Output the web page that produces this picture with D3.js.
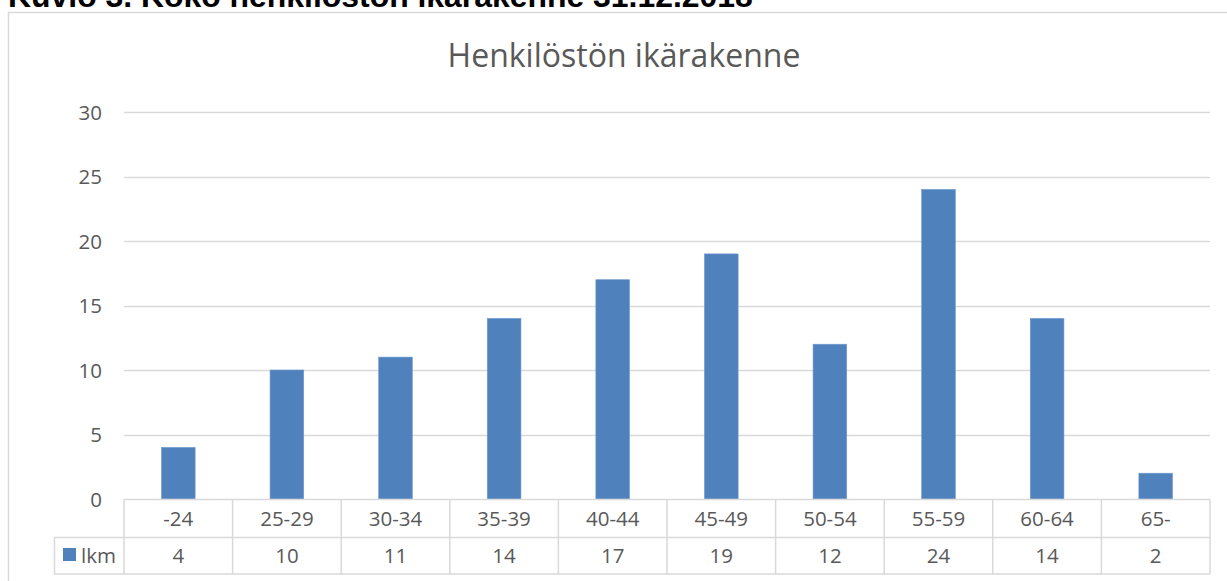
<!DOCTYPE html>
<html><head><meta charset="utf-8">
<script src="https://cdn.jsdelivr.net/npm/d3@7"></script>
<style>body{margin:0;background:#fff;overflow:hidden}</style>
</head><body>
<svg id="c" width="1227" height="581"></svg>
<script>
const categories = ["-24","25-29","30-34","35-39","40-44","45-49","50-54","55-59","60-64","65-"];
const values = [4,10,11,14,17,19,12,24,14,2];
const seriesName = "lkm";
const yTicks = [0,5,10,15,20,25,30];
const heading = "Kuvio 3. Koko henkilöstön ikärakenne 31.12.2018";
const chartTitle = "Henkilöstön ikärakenne";

const svg = d3.select("#c");
const font = "'Liberation Sans', Arial, sans-serif";
const lblFont = "'Open Sans', sans-serif";
const lblSize = 20.5;
const txt = "#595959", grid = "#d9d9d9", barColor = "#4f81bd";

// heading (cut off at top)
const h = svg.append("text").attr("x", 8).attr("y", 7)
  .attr("font-family", font).attr("font-weight", "bold").attr("font-size", 24)
  .attr("fill", "#000").text(heading);
const hl = h.node().getComputedTextLength();
h.attr("font-size", 24 * 745 / hl);

// chart frame
svg.append("rect").attr("x", 8.5).attr("y", 12.5).attr("width", 1240).attr("height", 600)
  .attr("fill", "#fff").attr("stroke", grid).attr("stroke-width", 1.5);

const x = d3.scaleBand().domain(categories).range([124, 1210]).paddingInner(0.69).paddingOuter(0.345);
const xCol = d3.scaleBand().domain(categories).range([124, 1210]);
const y = d3.scaleLinear().domain([0, 30]).range([499, 112]);

// title
const t = svg.append("text").attr("x", 624).attr("y", 67).attr("text-anchor", "middle")
  .attr("font-family", "'Open Sans', sans-serif").attr("font-size", 28).attr("fill", txt).text(chartTitle);
const tl = t.node().getComputedTextLength();
t.attr("font-size", 28 * 353 / tl);

// gridlines
svg.append("g").selectAll("line").data(yTicks.filter(d => d > 0)).join("line")
  .attr("x1", 124).attr("x2", 1210).attr("y1", d => Math.round(y(d)) + 0.5).attr("y2", d => Math.round(y(d)) + 0.5)
  .attr("stroke", grid).attr("stroke-width", 1.3);

// y axis
const yAxis = d3.axisLeft(y).tickValues(yTicks).tickSize(0).tickPadding(0);
const ya = svg.append("g").attr("transform", "translate(102,0)").call(yAxis);
ya.select(".domain").remove();
ya.selectAll("text").attr("font-family", lblFont).attr("font-size", lblSize).attr("fill", txt).attr("dy", "0.35em");

// bars
svg.append("g").selectAll("rect").data(values).join("rect")
  .attr("x", (d, i) => x(categories[i])).attr("width", x.bandwidth())
  .attr("y", d => y(d)).attr("height", d => y(0) - y(d))
  .attr("fill", barColor).attr("stroke", "#6f9bd0").attr("stroke-width", 0.6);

// data table
const r0 = 499.5, r1 = 537.5, r2 = 574;
const tg = svg.append("g").attr("stroke", grid).attr("stroke-width", 1.5);
tg.append("line").attr("x1", 124).attr("x2", 1210).attr("y1", r0).attr("y2", r0);
tg.append("line").attr("x1", 54).attr("x2", 1210).attr("y1", r1).attr("y2", r1);
tg.append("line").attr("x1", 54).attr("x2", 1210).attr("y1", r2).attr("y2", r2);
tg.append("line").attr("x1", 54.5).attr("x2", 54.5).attr("y1", r1).attr("y2", r2);
tg.selectAll("line.v").data(categories.concat(["end"])).join("line").attr("class", "v")
  .attr("x1", (d, i) => 124 + i * xCol.step()).attr("x2", (d, i) => 124 + i * xCol.step())
  .attr("y1", r0).attr("y2", r2);

svg.append("g").selectAll("text").data(categories).join("text")
  .attr("x", d => xCol(d) + xCol.bandwidth() / 2).attr("y", (r0 + r1) / 2).attr("dy", "0.35em")
  .attr("text-anchor", "middle").attr("font-family", lblFont).attr("font-size", lblSize).attr("fill", txt).text(d => d);
svg.append("g").selectAll("text").data(values).join("text")
  .attr("x", (d, i) => xCol(categories[i]) + xCol.bandwidth() / 2).attr("y", (r1 + r2) / 2).attr("dy", "0.35em")
  .attr("text-anchor", "middle").attr("font-family", lblFont).attr("font-size", lblSize).attr("fill", txt).text(d => d);

// legend cell
svg.append("rect").attr("x", 63).attr("y", 548).attr("width", 13).attr("height", 13).attr("fill", barColor);
svg.append("text").attr("x", 81).attr("y", (r1 + r2) / 2).attr("dy", "0.35em")
  .attr("font-family", lblFont).attr("font-size", lblSize).attr("fill", txt).text(seriesName);
</script>
</body></html>
